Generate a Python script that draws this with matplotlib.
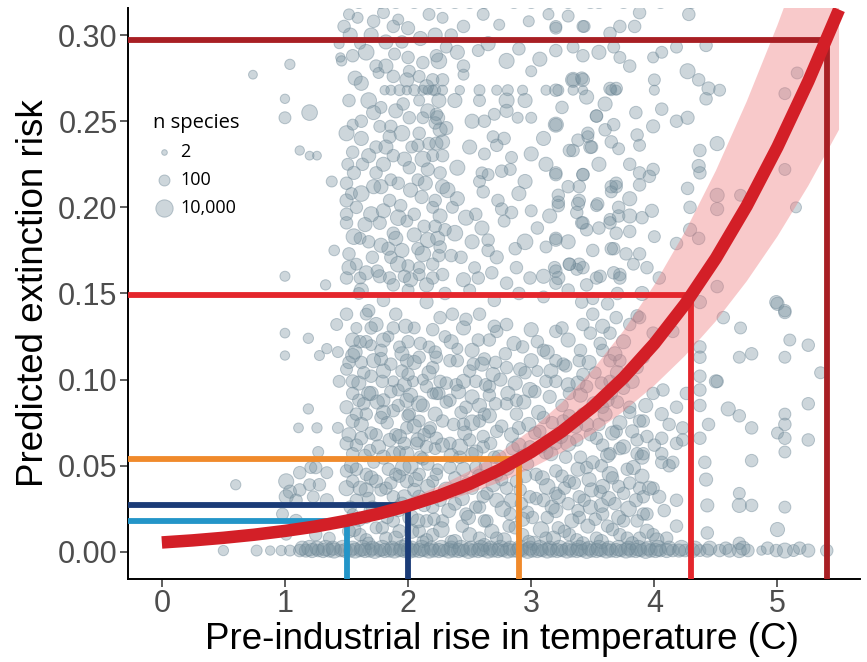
import numpy as np
import matplotlib
matplotlib.use("Agg")
from matplotlib import pyplot as plt

# fitted risk curve and its ribbon
curve_x = [0.0, 0.25, 0.5, 0.75, 1.0, 1.25, 1.5, 1.75, 2.0, 2.25, 2.5, 2.75,
           3.0, 3.25, 3.5, 3.75, 4.0, 4.25, 4.5, 4.75, 5.0, 5.25, 5.5]
curve_y = [0.0055, 0.0067, 0.0082, 0.0100, 0.0122, 0.0148, 0.0181, 0.0220,
           0.0268, 0.0326, 0.0395, 0.0479, 0.0580, 0.0700, 0.0842, 0.1011,
           0.1209, 0.1439, 0.1705, 0.2008, 0.2351, 0.2731, 0.3148]
band_hi = [0.0055, 0.0068, 0.0085, 0.0105, 0.0131, 0.0162, 0.0201, 0.0249,
           0.0308, 0.0381, 0.0470, 0.0578, 0.0710, 0.0868, 0.1058, 0.1284,
           0.1550, 0.1859, 0.2213, 0.2614, 0.3058, 0.3541, 0.4057]
band_lo = [0.0055, 0.0066, 0.0079, 0.0095, 0.0114, 0.0137, 0.0165, 0.0198,
           0.0237, 0.0284, 0.0340, 0.0406, 0.0485, 0.0578, 0.0687, 0.0816,
           0.0966, 0.1139, 0.1340, 0.1571, 0.1832, 0.2125, 0.2451]

# warming scenarios and the risk they map to
levels_x = [1.5, 2.0, 2.9, 4.3, 5.4]
levels_y = [0.018, 0.027, 0.054, 0.149, 0.297]
levels_col = ['#2395c8', '#1b3c77', '#f08a2b', '#e4262c', '#a81f24']

legend_n = [2, 100, 10000]
legend_lab = ['2', '100', '10,000']

# studies: (temperature rise, predicted risk, n species)
left_pts = [
    (0.74, 0.277, 20), (1.04, 0.283, 60), (1.00, 0.263, 30), (1.00, 0.252, 200),
    (1.20, 0.255, 3000), (1.12, 0.233, 30), (1.20, 0.230, 20), (1.26, 0.230, 20),
    (1.45, 0.287, 30), (1.00, 0.160, 50), (1.00, 0.127, 40), (1.19, 0.124, 60),
    (1.00, 0.114, 30), (1.19, 0.083, 60), (1.11, 0.072, 40), (1.26, 0.072, 60),
    (0.60, 0.039, 60), (1.34, 0.118, 60), (1.28, 0.114, 50), (1.43, 0.116, 100),
    (1.44, 0.099, 200), (1.42, 0.132, 200), (1.43, 0.072, 100), (1.27, 0.058, 100),
    (1.25, 0.049, 300), (1.34, 0.046, 200), (1.01, 0.041, 2000), (1.12, 0.046, 300),
    (1.21, 0.049, 200), (1.04, 0.035, 500), (1.12, 0.036, 300), (1.20, 0.039, 200),
    (1.28, 0.039, 300), (1.01, 0.032, 1000), (1.09, 0.030, 300), (1.23, 0.032, 200),
    (1.34, 0.030, 500), (0.98, 0.022, 200), (1.09, 0.018, 500), (1.25, 0.010, 300),
    (1.36, 0.008, 200), (1.01, 0.010, 100), (1.40, 0.175, 80), (1.38, 0.215, 100),
    (1.33, 0.155, 60),
]
core_hi = [
    (1.59, 0.310, 100), (1.92, 0.309, 100), (1.88, 0.305, 300), (2.17, 0.312, 200),
    (1.44, 0.295, 50), (1.61, 0.295, 100), (1.46, 0.285, 60), (1.74, 0.282, 300),
    (1.76, 0.278, 100), (1.89, 0.289, 200), (2.00, 0.287, 300), (2.01, 0.279, 200),
    (1.99, 0.274, 1000), (2.09, 0.276, 200), (2.20, 0.274, 300),
    (1.81, 0.268, 30), (1.86, 0.268, 50), (1.93, 0.268, 100), (1.99, 0.268, 30),
    (2.05, 0.268, 100), (2.12, 0.268, 50), (2.16, 0.268, 30), (2.22, 0.268, 100),
    (1.78, 0.258, 200), (2.09, 0.262, 100), (2.16, 0.256, 1000), (2.01, 0.252, 300),
    (2.12, 0.252, 200), (1.50, 0.243, 2000), (1.55, 0.248, 100), (1.77, 0.247, 200),
    (1.86, 0.247, 300), (1.85, 0.241, 500), (1.74, 0.235, 300), (1.88, 0.230, 300),
    (1.80, 0.225, 1000), (2.03, 0.235, 200), (2.17, 0.237, 300), (2.20, 0.230, 200),
    (2.09, 0.243, 300), (1.51, 0.225, 200), (1.63, 0.225, 300), (1.56, 0.220, 500),
    (1.74, 0.220, 300), (1.86, 0.216, 200), (2.01, 0.223, 300), (2.08, 0.216, 200),
    (2.16, 0.222, 500), (1.50, 0.214, 300), (1.50, 0.204, 500), (1.54, 0.208, 200),
    (1.70, 0.196, 2000), (1.85, 0.204, 300), (1.94, 0.201, 300), (2.11, 0.206, 500),
    (2.20, 0.200, 200), (1.50, 0.196, 300), (1.50, 0.191, 300), (1.61, 0.182, 200),
    (1.77, 0.191, 500), (1.88, 0.185, 300), (1.99, 0.192, 200), (2.13, 0.189, 300),
    (2.16, 0.181, 2000), (1.52, 0.173, 300), (1.58, 0.167, 200), (1.71, 0.171, 300),
    (1.84, 0.176, 500), (1.86, 0.171, 300), (2.00, 0.166, 300), (2.09, 0.165, 200),
    (2.20, 0.167, 300), (1.50, 0.159, 300), (1.61, 0.159, 200), (1.77, 0.160, 500),
    (1.85, 0.159, 300), (1.97, 0.160, 300), (2.09, 0.161, 200), (2.20, 0.159, 300),
    (1.60, 0.150, 200), (1.80, 0.146, 300), (2.00, 0.152, 200), (2.15, 0.145, 500),
    (1.68, 0.140, 300), (1.90, 0.138, 300), (1.52, 0.312, 100), (1.72, 0.308, 300),
    (1.80, 0.313, 200), (2.00, 0.304, 500),
    (1.53, 0.300, 1000), (1.66, 0.290, 3000), (1.82, 0.296, 1000), (2.10, 0.298, 1000),
    (2.25, 0.285, 3000), (1.57, 0.275, 1000), (1.68, 0.262, 3000), (1.90, 0.256, 1000),
    (2.25, 0.262, 1000), (1.62, 0.240, 1000), (1.95, 0.243, 3000), (2.26, 0.245, 1000),
    (1.68, 0.230, 1000), (1.97, 0.228, 1000), (2.12, 0.228, 3000), (1.62, 0.208, 3000),
    (1.78, 0.212, 1000), (2.02, 0.210, 1000), (2.28, 0.212, 1000), (1.65, 0.190, 1000),
    (1.92, 0.194, 3000), (2.05, 0.184, 1000), (2.26, 0.195, 1000), (1.56, 0.183, 3000),
    (1.78, 0.178, 1000), (1.95, 0.175, 1000), (2.12, 0.173, 3000), (1.66, 0.162, 1000),
    (1.92, 0.167, 3000), (2.15, 0.155, 1000),
    (1.48, 0.305, 300), (1.70, 0.300, 1000), (1.95, 0.296, 300), (2.22, 0.300, 1000),
    (1.55, 0.288, 300), (1.82, 0.282, 1000), (2.12, 0.284, 300), (1.62, 0.272, 1000),
    (1.88, 0.276, 300), (2.15, 0.270, 1000), (1.52, 0.262, 300), (1.72, 0.255, 1000),
    (1.96, 0.260, 300), (2.24, 0.252, 1000), (1.62, 0.250, 300), (1.82, 0.235, 1000),
    (2.08, 0.236, 300), (2.28, 0.238, 1000), (1.55, 0.232, 300), (1.72, 0.212, 1000),
    (1.92, 0.214, 300), (2.14, 0.214, 1000), (1.58, 0.200, 300), (1.80, 0.198, 1000),
    (2.05, 0.196, 300), (2.24, 0.182, 1000), (1.68, 0.180, 300), (1.90, 0.182, 1000),
    (2.08, 0.176, 300), (1.52, 0.165, 1000), (1.75, 0.163, 300), (2.02, 0.158, 1000),
    (2.25, 0.172, 300), (1.62, 0.152, 1000), (1.88, 0.155, 300),
]
core_lo = [
    (1.50, 0.138, 300), (1.66, 0.138, 200), (1.74, 0.132, 1000), (1.88, 0.130, 300),
    (1.55, 0.123, 1000), (1.66, 0.122, 300), (1.55, 0.114, 1000), (1.50, 0.106, 200),
    (1.55, 0.099, 500), (1.70, 0.102, 300), (1.88, 0.099, 100), (1.93, 0.119, 200),
    (2.00, 0.122, 300), (1.99, 0.111, 500), (2.09, 0.113, 300), (2.17, 0.119, 200),
    (2.20, 0.107, 300), (2.04, 0.099, 100), (2.15, 0.096, 300), (1.55, 0.092, 300),
    (1.50, 0.084, 500), (1.55, 0.076, 500), (1.66, 0.080, 300), (1.80, 0.088, 500),
    (1.88, 0.082, 300), (1.99, 0.088, 1000), (2.01, 0.080, 300), (1.99, 0.072, 300),
    (2.09, 0.076, 200), (2.17, 0.070, 300), (1.74, 0.068, 300), (1.85, 0.065, 500),
    (1.50, 0.063, 500), (1.55, 0.057, 300), (1.69, 0.059, 200), (2.07, 0.063, 300),
    (2.15, 0.061, 300), (1.99, 0.057, 1000), (1.50, 0.047, 300), (1.50, 0.037, 2000),
    (1.55, 0.041, 300), (1.66, 0.045, 300), (1.74, 0.041, 500), (1.82, 0.037, 300),
    (1.90, 0.045, 300), (1.99, 0.041, 500), (2.09, 0.045, 300), (2.20, 0.041, 200),
    (1.58, 0.030, 300), (1.71, 0.026, 300), (1.88, 0.032, 300), (2.09, 0.032, 500),
    (2.20, 0.026, 300), (1.61, 0.010, 300), (1.74, 0.014, 200), (1.82, 0.008, 300),
    (1.93, 0.012, 500), (2.09, 0.012, 300), (2.20, 0.010, 300),
    (1.58, 0.130, 100), (1.62, 0.110, 300), (1.70, 0.120, 100), (1.78, 0.112, 500),
    (1.84, 0.125, 100), (1.95, 0.105, 300), (2.05, 0.130, 200), (2.12, 0.100, 100),
    (1.60, 0.088, 300), (1.70, 0.092, 1000), (1.78, 0.078, 300), (1.92, 0.094, 200),
    (2.12, 0.085, 500), (2.20, 0.092, 100), (1.62, 0.066, 500), (1.80, 0.055, 1000),
    (1.90, 0.068, 300), (2.02, 0.050, 2000), (2.12, 0.054, 300), (2.22, 0.060, 200),
    (1.58, 0.048, 300), (1.72, 0.052, 200), (1.95, 0.028, 500), (2.02, 0.020, 3000),
    (2.15, 0.018, 300), (1.66, 0.020, 200), (1.78, 0.024, 1000), (1.88, 0.018, 300),
    (1.55, 0.022, 100), (1.68, 0.005, 300), (1.98, 0.004, 500), (2.12, 0.006, 200),
    (1.52, 0.012, 500), (1.86, 0.040, 300), (2.05, 0.036, 500), (2.24, 0.048, 100),
    (1.66, 0.036, 1000), (1.93, 0.058, 200), (2.18, 0.072, 300), (2.08, 0.065, 1000),
]
mid_hi = [
    (2.61, 0.312, 200), (2.74, 0.306, 100), (3.14, 0.312, 100), (3.20, 0.305, 200),
    (3.43, 0.305, 200), (2.57, 0.291, 200), (2.80, 0.285, 2000), (3.07, 0.286, 1000),
    (3.20, 0.291, 300), (3.34, 0.293, 200), (3.42, 0.288, 300), (3.00, 0.279, 100),
    (2.45, 0.282, 300), (2.45, 0.277, 100), (2.23, 0.288, 300), (2.31, 0.293, 200),
    (2.28, 0.274, 300), (2.28, 0.310, 100), (2.45, 0.305, 300), (2.98, 0.308, 100),
    (2.20, 0.268, 50), (2.28, 0.268, 50), (2.42, 0.268, 30), (2.58, 0.268, 100),
    (2.72, 0.268, 50), (2.81, 0.268, 100), (2.93, 0.268, 50), (3.12, 0.268, 50),
    (3.22, 0.268, 100), (3.34, 0.268, 50), (3.42, 0.268, 30), (3.65, 0.268, 100),
    (3.69, 0.268, 50), (2.80, 0.262, 2000), (2.80, 0.256, 500), (2.58, 0.262, 200),
    (3.34, 0.274, 2000), (3.41, 0.275, 300), (3.45, 0.264, 1000), (3.53, 0.253, 300),
    (2.70, 0.254, 200), (2.89, 0.252, 100), (3.00, 0.252, 100), (3.20, 0.248, 2000),
    (2.23, 0.254, 300), (2.22, 0.249, 300), (2.31, 0.246, 500), (2.69, 0.241, 200),
    (2.72, 0.236, 300), (2.62, 0.231, 200), (2.84, 0.229, 200), (3.00, 0.231, 1000),
    (3.31, 0.233, 300), (3.38, 0.239, 300), (3.46, 0.241, 200), (3.48, 0.235, 500),
    (2.23, 0.237, 500), (2.28, 0.230, 300), (2.40, 0.223, 2000), (2.60, 0.220, 200),
    (2.65, 0.219, 200), (2.76, 0.221, 300), (2.83, 0.222, 200), (3.20, 0.220, 300),
    (3.42, 0.219, 300), (2.26, 0.220, 300), (2.32, 0.210, 2000), (2.58, 0.215, 200),
    (2.61, 0.209, 300), (3.22, 0.207, 300), (3.22, 0.201, 300), (3.38, 0.202, 500),
    (3.37, 0.197, 300), (3.53, 0.201, 200), (3.69, 0.212, 300), (3.65, 0.209, 200),
    (2.22, 0.204, 300), (2.36, 0.200, 200), (2.47, 0.194, 2000), (2.73, 0.204, 300),
    (2.76, 0.199, 300), (2.84, 0.197, 300), (2.78, 0.192, 200), (3.00, 0.198, 200),
    (3.42, 0.191, 300), (3.45, 0.187, 300), (3.64, 0.193, 200), (3.71, 0.195, 300),
    (2.22, 0.189, 300), (2.30, 0.187, 300), (2.65, 0.181, 300), (2.72, 0.171, 500),
    (2.65, 0.175, 300), (2.87, 0.176, 300), (3.12, 0.177, 200), (3.20, 0.182, 300),
    (3.67, 0.176, 300), (3.77, 0.173, 300), (3.83, 0.167, 200), (2.26, 0.177, 300),
    (2.43, 0.171, 300), (2.54, 0.165, 200), (2.88, 0.165, 300), (3.19, 0.165, 300),
    (3.22, 0.159, 500), (3.31, 0.167, 300), (3.37, 0.164, 200), (3.53, 0.159, 300),
    (3.72, 0.161, 300), (2.28, 0.161, 300), (2.57, 0.159, 300), (2.99, 0.159, 300),
    (2.80, 0.156, 300), (2.30, 0.150, 300), (2.50, 0.152, 200), (2.70, 0.146, 300),
    (2.90, 0.150, 300), (3.10, 0.148, 200), (3.30, 0.152, 300), (3.50, 0.147, 200),
    (3.70, 0.150, 300), (3.30, 0.311, 200),
    (2.40, 0.290, 1000), (2.52, 0.250, 1000), (2.38, 0.185, 3000), (2.52, 0.180, 1000),
    (2.95, 0.215, 1000), (3.10, 0.240, 1000), (3.15, 0.195, 1000), (2.95, 0.180, 3000),
    (3.55, 0.225, 1000), (3.80, 0.205, 1000),
    (2.35, 0.300, 300), (2.65, 0.295, 1000), (2.90, 0.292, 300), (3.55, 0.290, 1000),
    (3.80, 0.282, 300), (2.38, 0.262, 1000), (2.62, 0.250, 300), (2.95, 0.262, 1000),
    (3.25, 0.258, 300), (3.60, 0.260, 1000), (3.85, 0.255, 300), (2.50, 0.235, 1000),
    (2.78, 0.240, 300), (3.12, 0.225, 1000), (3.60, 0.245, 300), (2.40, 0.205, 1000),
    (2.55, 0.196, 300), (2.90, 0.208, 1000), (3.30, 0.212, 300), (3.80, 0.195, 1000),
    (2.35, 0.172, 300), (2.60, 0.188, 1000), (3.05, 0.188, 300), (3.30, 0.180, 1000),
    (3.55, 0.188, 300), (2.45, 0.158, 1000), (2.68, 0.162, 300), (3.10, 0.160, 1000),
    (3.45, 0.155, 300), (3.90, 0.150, 1000),
]
right_hi = [
    (3.42, 0.305, 200), (3.72, 0.305, 300), (3.84, 0.305, 300), (3.20, 0.304, 200),
    (3.64, 0.301, 300), (3.67, 0.293, 200), (4.18, 0.293, 200), (4.42, 0.294, 300),
    (3.72, 0.287, 200), (3.99, 0.287, 100), (4.06, 0.290, 200), (4.27, 0.279, 2000),
    (4.36, 0.274, 300), (4.44, 0.269, 500), (4.42, 0.263, 300), (4.53, 0.268, 200),
    (4.00, 0.274, 200), (4.00, 0.268, 50), (3.42, 0.274, 500), (3.34, 0.274, 300),
    (3.64, 0.269, 300), (3.69, 0.269, 300), (3.20, 0.268, 300), (4.06, 0.257, 300),
    (3.53, 0.253, 300), (3.67, 0.248, 300), (3.99, 0.247, 500), (3.20, 0.248, 300),
    (4.18, 0.250, 300), (4.27, 0.252, 500), (4.51, 0.237, 1000), (4.37, 0.233, 300),
    (3.46, 0.243, 300), (3.49, 0.235, 300), (3.34, 0.233, 300), (3.65, 0.238, 300),
    (3.71, 0.234, 200), (3.86, 0.242, 300), (3.88, 0.236, 200), (3.80, 0.225, 300),
    (3.88, 0.220, 300), (3.99, 0.222, 300), (3.96, 0.218, 300), (4.36, 0.224, 500),
    (4.37, 0.220, 300), (3.42, 0.219, 300), (3.20, 0.219, 300), (3.39, 0.212, 300),
    (3.65, 0.212, 300), (3.69, 0.214, 300), (3.88, 0.213, 300), (4.27, 0.211, 300),
    (4.29, 0.200, 300), (4.51, 0.207, 1000), (4.51, 0.199, 500), (4.70, 0.207, 200),
    (3.22, 0.203, 300), (3.39, 0.204, 300), (3.54, 0.202, 300), (3.71, 0.200, 300),
    (3.90, 0.194, 300), (3.98, 0.198, 500), (3.64, 0.191, 300), (3.41, 0.191, 300),
    (3.69, 0.185, 300), (3.80, 0.186, 300), (4.00, 0.183, 200), (4.29, 0.187, 500),
    (4.36, 0.182, 300), (4.18, 0.179, 300), (3.20, 0.181, 300), (3.50, 0.175, 300),
    (3.65, 0.176, 300), (3.88, 0.173, 300), (3.94, 0.165, 300), (3.42, 0.165, 300),
    (3.20, 0.163, 300), (3.39, 0.167, 300), (3.31, 0.167, 300), (3.67, 0.162, 300),
    (3.56, 0.160, 300), (3.72, 0.159, 300), (4.04, 0.159, 300), (4.51, 0.154, 300),
    (4.37, 0.145, 500), (3.20, 0.156, 300), (3.41, 0.145, 300), (3.62, 0.144, 300),
    (3.50, 0.138, 300), (3.86, 0.137, 300), (5.16, 0.278, 200), (5.06, 0.266, 200),
    (5.06, 0.222, 200), (5.15, 0.200, 100), (4.99, 0.145, 500), (5.06, 0.139, 300),
    (3.88, 0.313, 300), (4.28, 0.312, 300),
]
mid_lo = [
    (2.26, 0.136, 300), (2.36, 0.138, 300), (2.47, 0.135, 300), (2.58, 0.138, 300),
    (2.72, 0.128, 300), (2.80, 0.132, 300), (2.66, 0.123, 300), (2.93, 0.119, 300),
    (3.20, 0.128, 300), (3.42, 0.132, 300), (3.48, 0.127, 300), (3.64, 0.127, 300),
    (3.69, 0.136, 300), (3.80, 0.132, 300), (3.88, 0.136, 300), (2.23, 0.113, 300),
    (2.34, 0.111, 300), (2.53, 0.109, 300), (2.80, 0.107, 300), (2.91, 0.106, 500),
    (3.10, 0.117, 300), (3.20, 0.111, 300), (3.39, 0.111, 300), (3.58, 0.117, 300),
    (3.72, 0.111, 300), (3.86, 0.107, 300), (2.99, 0.094, 2000), (2.80, 0.086, 300),
    (2.66, 0.096, 300), (2.55, 0.099, 300), (2.39, 0.097, 300), (2.26, 0.099, 300),
    (2.23, 0.092, 300), (2.34, 0.088, 300), (2.47, 0.084, 300), (2.28, 0.076, 300),
    (2.45, 0.074, 300), (2.58, 0.076, 300), (2.72, 0.070, 300), (2.23, 0.066, 300),
    (2.34, 0.063, 300), (2.50, 0.065, 300), (2.61, 0.061, 300), (3.20, 0.099, 300),
    (3.31, 0.092, 300), (3.45, 0.096, 300), (3.64, 0.099, 300), (3.58, 0.084, 300),
    (3.42, 0.080, 300), (3.26, 0.076, 300), (3.07, 0.070, 300), (3.80, 0.084, 300),
    (3.88, 0.076, 300), (3.69, 0.070, 300), (3.53, 0.066, 300), (3.37, 0.065, 300),
    (3.20, 0.063, 300), (2.99, 0.061, 300), (3.86, 0.065, 300), (3.64, 0.057, 300),
    (3.64, 0.045, 3000), (3.45, 0.049, 300), (3.31, 0.041, 300), (3.20, 0.047, 300),
    (3.04, 0.045, 300), (2.88, 0.041, 300), (2.72, 0.045, 300), (2.55, 0.049, 300),
    (2.34, 0.049, 300), (2.23, 0.045, 300), (2.42, 0.037, 300), (2.64, 0.034, 300),
    (2.80, 0.037, 300), (2.99, 0.032, 300), (3.20, 0.034, 300), (3.39, 0.032, 300),
    (3.56, 0.035, 300), (3.75, 0.034, 300), (3.88, 0.037, 300), (3.20, 0.024, 1000),
    (3.01, 0.020, 300), (2.83, 0.022, 300), (2.64, 0.018, 300), (2.47, 0.022, 300),
    (2.28, 0.018, 300), (3.39, 0.020, 300), (3.58, 0.022, 300), (3.75, 0.018, 300),
    (3.91, 0.022, 300), (2.50, 0.010, 1000), (2.72, 0.008, 300), (2.93, 0.010, 300),
    (3.12, 0.008, 300), (3.31, 0.010, 300), (3.53, 0.008, 300), (3.72, 0.010, 300),
    (3.88, 0.008, 300),
    (2.30, 0.125, 200), (2.40, 0.118, 100), (2.62, 0.112, 300), (2.75, 0.100, 500),
    (2.88, 0.088, 300), (3.05, 0.105, 100), (3.15, 0.090, 500), (3.28, 0.108, 300),
    (3.38, 0.098, 1000), (3.52, 0.104, 200), (3.62, 0.088, 500), (3.75, 0.095, 300),
    (2.52, 0.090, 1000), (2.62, 0.080, 300), (2.90, 0.072, 500), (3.10, 0.078, 300),
    (3.45, 0.074, 1000), (3.72, 0.060, 300), (3.82, 0.070, 500), (2.42, 0.055, 300),
    (2.55, 0.058, 1000), (2.70, 0.055, 300), (2.85, 0.060, 500), (3.12, 0.058, 1000),
    (3.28, 0.055, 300), (3.50, 0.052, 500), (3.78, 0.048, 300), (3.90, 0.055, 1000),
    (2.38, 0.028, 500), (2.58, 0.026, 300), (2.72, 0.030, 1000), (2.92, 0.028, 300),
    (3.10, 0.030, 500), (3.30, 0.028, 300), (3.48, 0.026, 1000), (3.68, 0.028, 300),
    (3.85, 0.030, 500), (2.35, 0.006, 300), (2.62, 0.004, 500), (2.82, 0.015, 300),
    (3.02, 0.005, 1000), (3.22, 0.014, 300), (3.42, 0.005, 500), (3.62, 0.015, 300),
    (3.82, 0.005, 500), (2.48, 0.040, 300), (2.95, 0.044, 500), (3.35, 0.040, 300),
    (3.58, 0.038, 1000), (3.80, 0.040, 300),
]
dense_lo = [
    (1.56, 0.013, 1000), (1.79, 0.014, 300), (2.03, 0.012, 1000), (2.27, 0.013, 3000),
    (2.44, 0.015, 300), (2.68, 0.012, 1000), (2.87, 0.014, 300), (3.08, 0.013, 3000),
    (3.27, 0.012, 300), (3.46, 0.015, 1000), (3.66, 0.013, 300), (3.94, 0.012, 1000),
    (1.53, 0.026, 300), (1.70, 0.024, 1000), (1.92, 0.025, 3000), (2.13, 0.027, 300),
    (2.33, 0.024, 1000), (2.55, 0.026, 300), (2.77, 0.025, 3000), (2.97, 0.023, 300),
    (3.17, 0.026, 1000), (3.38, 0.024, 300), (3.57, 0.027, 1000), (3.79, 0.025, 3000),
    (4.08, 0.024, 300), (1.61, 0.037, 1000), (1.78, 0.036, 300), (2.16, 0.038, 1000),
    (2.31, 0.036, 3000), (2.52, 0.037, 300), (2.69, 0.039, 1000), (2.91, 0.036, 300),
    (3.13, 0.038, 3000), (3.27, 0.037, 300), (3.49, 0.036, 1000), (3.71, 0.038, 300),
    (3.96, 0.037, 1000), (1.54, 0.050, 1000), (1.84, 0.048, 300), (1.96, 0.049, 3000),
    (2.16, 0.051, 300), (2.45, 0.048, 1000), (2.63, 0.050, 300), (2.80, 0.049, 3000),
    (2.97, 0.051, 300), (3.38, 0.048, 1000), (3.57, 0.050, 300), (3.83, 0.049, 1000),
    (4.12, 0.050, 300), (1.58, 0.062, 300), (1.76, 0.061, 1000), (1.97, 0.063, 300),
    (2.28, 0.062, 1000), (2.42, 0.061, 3000), (2.67, 0.063, 300), (2.90, 0.062, 1000),
    (3.08, 0.061, 300), (3.30, 0.063, 3000), (3.58, 0.062, 300), (3.75, 0.061, 1000),
    (4.00, 0.062, 300), (1.62, 0.074, 1000), (1.83, 0.075, 300), (2.05, 0.073, 1000),
    (2.37, 0.074, 300), (2.52, 0.075, 3000), (2.76, 0.073, 300), (2.98, 0.074, 1000),
    (3.17, 0.075, 300), (3.36, 0.073, 1000), (3.55, 0.074, 300), (3.72, 0.075, 1000),
    (4.12, 0.074, 300), (1.64, 0.086, 300), (1.75, 0.087, 1000), (1.92, 0.085, 300),
    (2.09, 0.086, 3000), (2.31, 0.087, 300), (2.58, 0.085, 1000), (2.71, 0.086, 300),
    (2.94, 0.087, 1000), (3.25, 0.085, 300), (3.51, 0.086, 1000), (3.70, 0.087, 300),
    (3.93, 0.085, 1000), (1.60, 0.098, 1000), (1.79, 0.099, 300), (1.97, 0.097, 1000),
    (2.31, 0.098, 300), (2.45, 0.099, 1000), (2.63, 0.097, 300), (2.87, 0.098, 1000),
    (3.12, 0.099, 300), (3.30, 0.097, 1000), (3.57, 0.098, 300), (3.82, 0.099, 1000),
    (1.52, 0.110, 300), (1.72, 0.111, 1000), (1.86, 0.109, 300), (2.05, 0.110, 1000),
    (2.40, 0.111, 300), (2.60, 0.109, 1000), (2.71, 0.110, 300), (3.00, 0.111, 1000),
    (3.26, 0.109, 300), (3.47, 0.110, 1000), (3.64, 0.111, 300), (1.61, 0.122, 300),
    (1.80, 0.123, 1000), (2.10, 0.121, 300), (2.35, 0.122, 1000), (2.57, 0.123, 300),
    (2.86, 0.121, 1000), (3.05, 0.122, 300), (3.30, 0.123, 1000), (3.56, 0.121, 300),
    (3.75, 0.122, 1000),
    (1.66, 0.007, 300), (1.90, 0.008, 1000), (2.15, 0.007, 300), (2.38, 0.006, 1000),
    (2.58, 0.008, 300), (2.78, 0.007, 1000), (2.98, 0.006, 300), (3.18, 0.008, 1000),
    (3.37, 0.007, 300), (3.57, 0.006, 1000), (3.78, 0.008, 300), (4.02, 0.007, 1000),
    (1.60, 0.019, 1000), (1.83, 0.020, 300), (2.08, 0.018, 1000), (2.21, 0.019, 300),
    (2.49, 0.020, 1000), (2.62, 0.018, 300), (2.93, 0.019, 1000), (3.13, 0.020, 300),
    (3.33, 0.018, 1000), (3.52, 0.019, 300), (3.71, 0.020, 1000), (3.86, 0.018, 300),
    (1.68, 0.031, 300), (1.97, 0.032, 1000), (2.26, 0.030, 300), (2.44, 0.031, 1000),
    (2.61, 0.032, 300), (2.84, 0.030, 1000), (3.04, 0.031, 300), (3.22, 0.032, 1000),
    (3.43, 0.030, 300), (3.63, 0.031, 1000), (3.91, 0.032, 300), (1.70, 0.043, 1000),
    (1.93, 0.044, 300), (2.06, 0.042, 1000), (2.38, 0.043, 300), (2.58, 0.044, 1000),
    (2.76, 0.042, 300), (3.09, 0.043, 1000), (3.25, 0.044, 300), (3.47, 0.042, 1000),
    (3.66, 0.043, 300), (3.90, 0.044, 1000), (1.65, 0.056, 300), (1.88, 0.057, 1000),
    (2.10, 0.055, 300), (2.35, 0.056, 1000), (2.52, 0.057, 300), (2.74, 0.055, 1000),
    (2.93, 0.056, 300), (3.16, 0.057, 1000), (3.40, 0.055, 300), (3.62, 0.056, 1000),
    (3.86, 0.057, 300), (1.52, 0.068, 1000), (1.70, 0.069, 300), (1.93, 0.067, 1000),
    (2.13, 0.068, 300), (2.46, 0.069, 1000), (2.61, 0.067, 300), (2.84, 0.068, 1000),
    (3.03, 0.069, 300), (3.24, 0.067, 1000), (3.48, 0.068, 300), (3.66, 0.069, 1000),
    (3.94, 0.067, 300), (1.58, 0.080, 300), (1.80, 0.081, 1000), (2.00, 0.079, 300),
    (2.22, 0.080, 1000), (2.43, 0.081, 300), (2.66, 0.079, 1000), (2.88, 0.080, 300),
    (3.06, 0.081, 1000), (3.31, 0.079, 300), (3.60, 0.080, 1000), (3.80, 0.081, 300),
    (1.68, 0.092, 1000), (1.86, 0.093, 300), (2.02, 0.091, 1000), (2.25, 0.092, 300),
    (2.41, 0.093, 1000), (2.66, 0.091, 300), (2.81, 0.092, 1000), (3.03, 0.093, 300),
    (3.40, 0.091, 1000), (3.65, 0.092, 300), (1.64, 0.104, 300), (1.80, 0.105, 1000),
    (2.00, 0.103, 300), (2.17, 0.104, 1000), (2.50, 0.105, 300), (2.69, 0.103, 1000),
    (2.95, 0.104, 300), (3.16, 0.105, 1000), (3.42, 0.103, 300), (3.70, 0.104, 1000),
    (1.57, 0.116, 1000), (1.78, 0.117, 300), (1.95, 0.115, 1000), (2.22, 0.116, 300),
    (2.52, 0.117, 1000), (2.79, 0.115, 300), (3.13, 0.116, 1000), (3.40, 0.117, 300),
    (3.68, 0.115, 1000), (1.70, 0.130, 300), (1.98, 0.131, 1000), (2.20, 0.129, 300),
    (2.45, 0.130, 1000), (2.70, 0.131, 300), (3.00, 0.129, 1000), (3.25, 0.130, 300),
    (3.58, 0.131, 1000),
]
right_lo = [
    (5.00, 0.144, 500), (5.06, 0.140, 300), (4.70, 0.130, 200), (5.10, 0.123, 200),
    (5.25, 0.120, 300), (4.69, 0.113, 200), (4.79, 0.115, 300), (5.06, 0.113, 200),
    (5.35, 0.104, 200), (4.50, 0.099, 500), (4.60, 0.083, 1000), (4.69, 0.079, 300),
    (4.79, 0.072, 300), (5.25, 0.086, 300), (5.06, 0.080, 200), (5.06, 0.074, 300),
    (5.00, 0.069, 200), (5.06, 0.066, 300), (5.25, 0.065, 300), (5.06, 0.058, 200),
    (4.79, 0.053, 300), (4.69, 0.034, 200), (4.69, 0.027, 1000), (4.79, 0.027, 300),
    (4.43, 0.027, 500), (5.06, 0.026, 200), (5.00, 0.013, 1000), (4.43, 0.011, 300),
    (4.69, 0.005, 300), (3.91, 0.076, 300), (3.91, 0.057, 300), (4.06, 0.080, 500),
    (4.06, 0.066, 300), (4.06, 0.057, 300), (4.06, 0.052, 300), (3.99, 0.092, 300),
    (4.18, 0.084, 300), (4.23, 0.072, 300), (4.18, 0.063, 300), (4.15, 0.052, 300),
    (3.99, 0.037, 300), (4.04, 0.032, 500), (4.18, 0.030, 300), (3.94, 0.022, 300),
    (4.18, 0.015, 300), (3.99, 0.010, 300), (4.10, 0.008, 300), (4.37, 0.119, 300),
    (4.37, 0.113, 300), (4.37, 0.102, 300), (4.37, 0.094, 300), (4.37, 0.085, 300),
    (4.37, 0.066, 300), (4.41, 0.052, 300), (4.42, 0.042, 500), (4.44, 0.074, 300),
    (4.51, 0.099, 300), (4.26, 0.092, 300), (4.23, 0.065, 300), (3.99, 0.127, 300),
    (4.15, 0.128, 300), (3.91, 0.113, 300), (4.07, 0.094, 300), (4.56, 0.136, 300),
]
floor_pts = [
    (0.50, 60), (0.77, 100), (0.88, 30), (0.97, 60), (1.04, 100), (1.12, 300),
    (1.17, 500), (1.22, 1000), (1.27, 300), (1.31, 1000), (1.36, 500), (1.40, 2000),
    (1.45, 300), (1.49, 1000), (1.53, 500), (1.57, 2000), (1.61, 300), (1.65, 1000),
    (1.69, 500), (1.73, 3000), (1.77, 300), (1.81, 1000), (1.85, 500), (1.89, 2000),
    (1.93, 300), (1.97, 1000), (2.01, 3000), (2.05, 500), (2.09, 1000), (2.13, 300),
    (2.17, 2000), (2.21, 500), (2.25, 1000), (2.29, 300), (2.33, 2000), (2.37, 500),
    (2.41, 1000), (2.45, 300), (2.49, 3000), (2.53, 500), (2.57, 1000), (2.61, 300),
    (2.65, 2000), (2.69, 500), (2.73, 1000), (2.77, 300), (2.81, 2000), (2.85, 500),
    (2.89, 1000), (2.93, 300), (2.97, 3000), (3.01, 500), (3.05, 1000), (3.09, 300),
    (3.13, 2000), (3.17, 500), (3.21, 1000), (3.25, 300), (3.29, 2000), (3.33, 500),
    (3.37, 1000), (3.41, 300), (3.45, 3000), (3.49, 500), (3.53, 1000), (3.57, 300),
    (3.61, 2000), (3.65, 500), (3.69, 1000), (3.73, 300), (3.77, 2000), (3.81, 500),
    (3.85, 1000), (3.89, 300), (3.93, 3000), (3.97, 500), (4.01, 1000), (4.05, 300),
    (4.10, 1000), (4.15, 300), (4.20, 500), (4.25, 300), (4.31, 1000), (4.37, 200),
    (4.43, 500), (4.53, 300), (4.61, 500), (4.69, 1000), (4.76, 300), (4.87, 30),
    (4.99, 300), (5.06, 2000), (5.13, 200), (5.25, 500), (5.40, 300),
]
floor_y = 0.0008
floor2_pts = [
    (1.14, 1000), (1.20, 3000), (1.26, 1000), (1.33, 3000), (1.39, 1000), (1.47, 3000),
    (1.55, 1000), (1.63, 3000), (1.71, 1000), (1.79, 3000), (1.87, 1000), (1.95, 3000),
    (2.03, 1000), (2.11, 3000), (2.19, 1000), (2.27, 3000), (2.35, 1000), (2.43, 3000),
    (2.51, 1000), (2.59, 3000), (2.67, 1000), (2.75, 3000), (2.83, 1000), (2.91, 3000),
    (2.99, 1000), (3.07, 3000), (3.15, 1000), (3.23, 3000), (3.31, 1000), (3.39, 3000),
    (3.47, 1000), (3.55, 3000), (3.63, 1000), (3.71, 3000), (3.79, 1000), (3.87, 3000),
    (3.95, 1000), (4.03, 3000), (4.12, 1000), (4.22, 3000), (4.33, 1000), (4.45, 1000),
    (4.58, 300), (4.72, 1000), (4.92, 300), (5.18, 300),
]
floor2_y = 0.0022
top_edge_x = [1.60, 1.78, 1.90, 2.05, 2.25, 2.38, 2.50, 2.62, 2.86, 3.00, 3.15,
              3.30, 3.48, 3.55, 3.75, 4.05, 4.30]
top_edge_y = 0.3200


def pt_size(n):
    # marker diameter grows with log10(n species), given in pixels at 100 dpi
    d = 4.7 + 3.15 * np.log10(np.asarray(n, dtype=float))
    return (d * 0.72) ** 2


pts = left_pts + core_hi + core_lo + mid_hi + mid_lo + dense_lo + right_hi + right_lo
px = ([p[0] for p in pts] + [f[0] for f in floor_pts] + [f[0] for f in floor2_pts]
      + top_edge_x)
py = ([p[1] for p in pts] + [floor_y] * len(floor_pts) + [floor2_y] * len(floor2_pts)
      + [top_edge_y] * len(top_edge_x))
pn = ([p[2] for p in pts] + [f[1] for f in floor_pts] + [f[1] for f in floor2_pts]
      + [3000] * len(top_edge_x))

face = (0.47, 0.57, 0.62, 0.37)
edge = (0.43, 0.53, 0.59, 0.45)

fig = plt.figure(figsize=(8.67, 6.62), dpi=100)
ax = fig.add_axes([0.1476, 0.1254, 0.8443, 0.8625])

ax.scatter(px, py, s=pt_size(pn), facecolor=face, edgecolor=edge, linewidth=0.7, zorder=1)
ax.fill_between(curve_x, band_lo, band_hi, color='#ef7f82', alpha=0.42, lw=0, zorder=2)

xmin, xmax = -0.275, 5.67
ymin, ymax = -0.0157, 0.3157
for lx, ly, c in zip(levels_x, levels_y, levels_col):
    ax.plot([xmin, lx], [ly, ly], color=c, lw=4.2, solid_capstyle='butt', zorder=3)
    ax.plot([lx, lx], [ymin, ly], color=c, lw=4.2, solid_capstyle='butt', zorder=3)

ax.plot(curve_x, curve_y, color='#d31f27', lw=9, solid_capstyle='butt',
        solid_joinstyle='round', zorder=4)

ax.set_xlim(xmin, xmax)
ax.set_ylim(ymin, ymax)
ax.set_xticks([0, 1, 2, 3, 4, 5])
ax.set_yticks([0, 0.05, 0.10, 0.15, 0.20, 0.25, 0.30])
ax.set_yticklabels(['%.2f' % v for v in ax.get_yticks()])

for side in ['top', 'right']:
    ax.spines[side].set_visible(False)
for side in ['left', 'bottom']:
    ax.spines[side].set_linewidth(1.4)
    ax.spines[side].set_color('black')

ax.tick_params(axis='both', length=5.5, width=1.1, color='#333333', labelcolor='#4d4d4d',
               labelsize=22, pad=2)
for lab in ax.get_xticklabels() + ax.get_yticklabels():
    lab.set_family('Liberation Sans')

ax.set_xlabel('Pre-industrial rise in temperature (C)', fontsize=26.5, family='Liberation Sans')
ax.set_ylabel('Predicted extinction risk', fontsize=26.5, family='Liberation Sans')
ax.xaxis.set_label_coords(0.511, -0.075)
ax.yaxis.set_label_coords(-0.105, 0.5)

handles = [ax.scatter([], [], s=pt_size(n), facecolor=face, edgecolor=edge, linewidth=0.7)
           for n in legend_n]
leg = ax.legend(handles, legend_lab, title='n species', loc='upper left',
                bbox_to_anchor=(0.022, 0.832), frameon=False, alignment='left',
                prop={'family': 'Open Sans', 'size': 13},
                title_fontproperties={'family': 'Open Sans', 'size': 14.5},
                handletextpad=0.3, labelspacing=0.55, borderpad=0, handlelength=1.2)

fig.savefig('out.png', dpi=100)
